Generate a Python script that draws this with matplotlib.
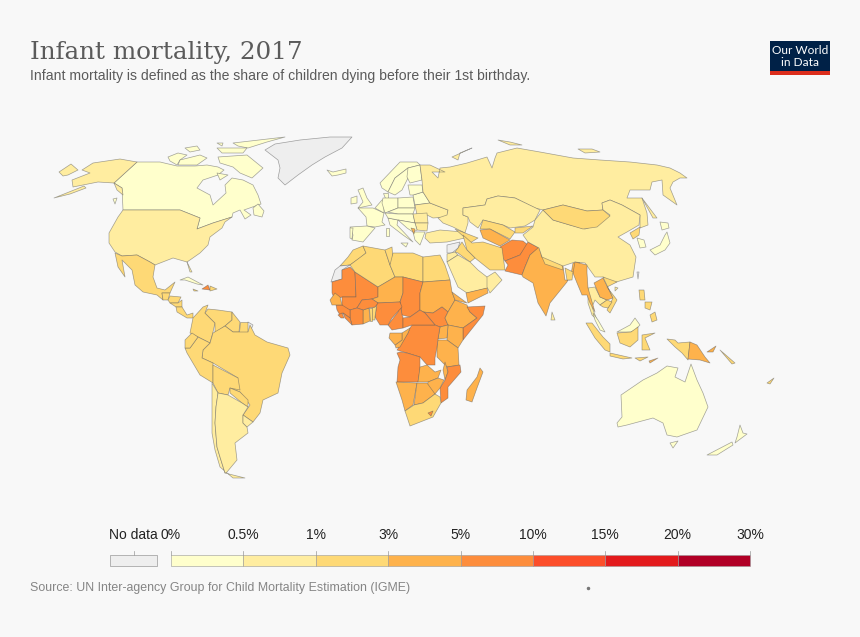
import matplotlib
matplotlib.use("Agg")
import matplotlib.pyplot as plt
from matplotlib.colors import ListedColormap, BoundaryNorm
from matplotlib.patches import Polygon, Rectangle

BIN_EDGES = [0, 0.5, 1, 3, 5, 10, 15, 20, 30]
BIN_LABELS = ["0%", "0.5%", "1%", "3%", "5%", "10%", "15%", "20%", "30%"]
BIN_COLORS = ["#FFFFCC", "#FFEDA0", "#FED976", "#FEB24C", "#FD8D3C", "#FC4E2A", "#E31A1C", "#B10026"]
NO_DATA = "#EEEEEE"

# Map outlines (map x, map y)
CANADA = [(137,162),(114,183),(122,188),(123,210),(180,210),(200,218),(197,229),(213,223),(232,217),(233,213),(240,210),(245,219),(251,215),(244,210),(261,204),(258,195),(253,185),(243,180),(232,178),(225,185),(226,193),(213,205),(210,195),(197,188),(203,180),(218,175),(224,170),(218,167),(207,165),(195,166),(177,166),(160,162)]
BAFFIN = [(218,157),(247,155),(263,168),(252,178),(240,173),(233,167),(220,163)]
ELLESMERE = [(233,143),(285,137),(267,142),(248,148),(238,146)]
BANKS = [(168,157),(178,153),(187,155),(180,160),(177,165),(170,161)]
VICTORIA = [(180,160),(200,155),(207,158),(197,165),(178,165)]
MELVILLE = [(185,148),(197,146),(200,150),(190,152)]
AXEL = [(217,143),(223,143),(222,146)]
DEVON = [(217,148),(247,148),(243,153),(222,153)]
SOUTHAMPTON = [(217,173),(228,175),(220,180)]
NEWFOUNDLAND = [(253,208),(258,204),(264,211),(262,217),(254,215)]
VANCOUVER = [(113,199),(117,198),(115,204)]
ALASKA_MAIN = [(137,162),(120,159),(93,163),(82,170),(90,173),(72,180),(73,187),(83,185),(98,182),(114,183)]
PANHANDLE = [(114,183),(122,188),(123,195),(117,190)]
SEWARD = [(59,172),(71,164),(78,170),(68,175),(63,176)]
ALEUT = [(54,198),(84,186),(86,188),(70,194)]
GREENLAND = [(265,150),(275,144),(300,140),(330,137),(352,137),(342,148),(325,157),(312,165),(298,175),(285,185),(278,178),(280,168),(278,160)]
ICELAND = [(327,170),(333,172),(346,169),(346,173),(338,175),(332,176)]
USA = [(123,210),(180,210),(200,218),(197,229),(213,223),(232,217),(225,222),(222,228),(210,237),(208,245),(200,253),(190,260),(187,262),(192,272),(190,272),(187,262),(173,258),(155,265),(150,262),(137,255),(122,256),(115,252),(109,243),(109,233),(118,217)]
MEXICO = [(115,253),(122,256),(137,255),(150,262),(155,265),(153,277),(157,288),(165,290),(175,282),(170,293),(162,293),(163,300),(157,295),(143,292),(135,285),(132,270),(122,260),(125,277),(118,267)]
GUATEMALA = [(162,293),(170,293),(168,300),(163,300)]
HONDURAS = [(168,300),(170,296),(181,297),(178,303),(170,303)]
NICARAGUA = [(170,303),(178,303),(182,300),(182,307),(176,307)]
PANAMA = [(176,307),(182,307),(187,315),(193,313),(193,318),(187,318),(177,312)]
CUBA = [(180,280),(188,277),(203,285),(197,284),(185,280)]
HAITI = [(202,289),(208,285),(210,290)]
DOMINICAN = [(210,286),(217,289),(210,291)]
JAMAICA = [(193,289),(198,291),(194,291)]
COLOMBIA = [(193,318),(203,307),(208,305),(205,313),(215,323),(213,332),(210,343),(198,337),(190,333)]
VENEZUELA = [(205,313),(208,309),(218,310),(232,312),(232,320),(225,326),(215,333),(215,323)]
GUYANA = [(232,312),(240,322),(239,332),(233,332),(225,326),(232,320)]
SURINAME = [(240,322),(248,322),(248,332),(239,332)]
GUIANA = [(248,322),(253,325),(250,332),(248,332)]
BRAZIL = [(210,343),(213,333),(225,326),(233,332),(248,332),(250,325),(255,335),(267,342),(288,348),(290,355),(282,373),(278,393),(263,400),(260,413),(253,422),(243,415),(250,405),(240,392),(230,388),(238,378),(213,363),(202,358),(203,350)]
PERU = [(185,348),(190,348),(198,337),(210,343),(203,350),(202,358),(213,363),(213,383),(200,375),(187,353)]
ECUADOR = [(185,340),(192,333),(198,337),(190,348),(185,348)]
BOLIVIA = [(213,365),(238,378),(240,390),(230,388),(228,395),(218,393),(213,383)]
PARAGUAY = [(230,388),(240,392),(248,400),(248,407),(242,403),(230,393)]
CHILE = [(212,383),(218,393),(216,407),(215,423),(217,447),(220,457),(225,473),(245,478),(233,478),(220,467),(215,450),(212,433)]
ARGENTINA = [(218,393),(228,395),(242,403),(248,407),(243,415),(243,423),(247,427),(248,433),(235,443),(237,460),(227,472),(225,473),(220,457),(217,447),(215,423),(216,407)]
URUGUAY = [(243,415),(253,422),(247,427),(243,423)]
MOROCCO = [(340,266),(348,257),(353,250),(363,246),(366,253),(360,258),(350,265)]
W_SAHARA = [(331,282),(335,270),(340,266),(350,265),(342,270),(342,279)]
MAURITANIA = [(332,293),(332,282),(342,279),(342,270),(350,267),(355,272),(356,297),(342,297),(335,300)]
MALI = [(355,272),(378,287),(378,297),(372,299),(362,300),(357,308),(350,310),(342,307),(342,297),(356,297)]
ALGERIA = [(350,265),(366,253),(363,246),(385,250),(390,265),(395,277),(378,287),(355,272)]
TUNISIA = [(385,250),(392,247),(393,260),(390,265)]
LIBYA = [(390,265),(393,253),(413,253),(423,257),(423,282),(403,277),(395,277)]
EGYPT = [(423,257),(440,255),(445,265),(450,280),(423,282)]
NIGER = [(378,287),(395,277),(403,277),(403,293),(400,302),(378,303),(372,299),(378,297)]
CHAD = [(403,277),(423,282),(420,293),(420,310),(410,317),(402,315),(400,302),(403,293)]
SUDAN = [(423,282),(450,280),(452,292),(455,300),(448,312),(442,307),(433,313),(423,312),(420,310),(420,293)]
S_SUDAN = [(423,312),(433,313),(442,307),(448,312),(445,318),(448,325),(440,327),(435,325),(425,313)]
ETHIOPIA = [(448,312),(455,300),(467,305),(470,312),(477,318),(463,328),(448,325),(445,318)]
ERITREA = [(452,292),(467,303),(455,300)]
SOMALIA = [(467,307),(485,306),(483,315),(463,340),(463,328),(477,318),(470,312)]
KENYA = [(448,325),(463,328),(463,340),(458,348),(447,340)]
UGANDA = [(440,327),(448,325),(447,338),(438,339)]
TANZANIA = [(438,340),(447,340),(458,348),(459,365),(447,367),(437,357),(437,347)]
DRC = [(412,325),(435,325),(440,327),(438,339),(437,347),(435,358),(435,365),(427,365),(420,357),(407,353),(397,350),(408,333),(410,328)]
CONGO = [(402,333),(410,328),(408,333),(400,347),(396,348),(395,345),(402,340)]
GABON = [(390,333),(402,333),(402,340),(395,345),(389,338)]
CAMEROON = [(400,302),(402,315),(403,317),(403,328),(392,330),(388,325),(398,312)]
CAR = [(403,318),(410,317),(420,310),(425,313),(435,325),(412,325),(403,328)]
NIGERIA = [(377,303),(400,302),(402,307),(392,318),(388,325),(380,325),(375,317)]
BENIN = [(372,308),(375,307),(377,303),(375,317),(375,320),(372,320)]
TOGO = [(369,308),(372,308),(372,321),(370,321)]
GHANA = [(363,310),(369,308),(370,321),(363,324)]
BURKINA = [(357,308),(362,300),(372,299),(378,303),(375,307),(369,308),(363,310)]
IVORY = [(350,310),(357,308),(363,310),(363,324),(352,325),(350,318)]
GUINEA = [(336,305),(342,305),(350,310),(350,318),(343,313),(340,315),(337,310)]
SENEGAL = [(330,300),(335,293),(340,297),(342,305),(332,305)]
LIBERIA = [(343,313),(350,318),(352,325),(345,318)]
SIERRA_LEONE = [(338,315),(342,313),(344,318),(341,318)]
ANGOLA = [(397,353),(400,352),(407,353),(420,357),(420,370),(418,382),(397,382),(398,367),(400,360)]
ZAMBIA = [(420,367),(427,365),(435,372),(441,370),(438,378),(428,382),(418,382)]
MALAWI = [(445,362),(448,372),(445,380),(443,370)]
MOZAMBIQUE = [(447,367),(460,365),(461,372),(448,387),(448,398),(441,403),(440,388),(445,380),(448,372)]
ZIMBABWE = [(428,382),(438,378),(444,380),(440,388),(435,394),(427,390)]
NAMIBIA = [(396,382),(417,383),(413,405),(405,411),(402,400)]
BOTSWANA = [(417,383),(427,383),(435,394),(423,403),(414,405)]
S_AFRICA = [(405,411),(414,405),(423,403),(435,394),(440,397),(441,403),(433,417),(410,426)]
LESOTHO = [(428,413),(433,411),(431,416)]
MADAGASCAR = [(480,368),(483,372),(477,388),(472,402),(466,400),(467,390),(477,377)]
FRANCE = [(358,208),(373,208),(384,213),(382,222),(385,225),(375,227),(367,226),(366,217)]
BENELUX = [(375,208),(382,200),(384,200),(384,213)]
DENMARK = [(383,193),(388,193),(388,198),(385,198)]
SPAIN = [(350,227),(367,226),(375,228),(363,242),(352,240),(353,235)]
PORTUGAL = [(350,228),(353,228),(352,239),(350,238)]
UK = [(358,190),(363,188),(367,198),(372,205),(358,208),(363,202)]
IRELAND = [(351,198),(357,196),(357,203),(351,204)]
NORWAY = [(380,183),(400,162),(417,162),(420,165),(408,168),(395,178),(388,192),(382,188)]
SWEDEN = [(395,178),(408,168),(412,170),(408,178),(402,190),(395,195),(388,192)]
FINLAND = [(408,168),(420,165),(422,180),(410,183),(407,177)]
GERMANY = [(383,198),(398,198),(398,208),(385,213),(382,203)]
POLAND = [(398,198),(413,197),(415,208),(398,208)]
BELARUS = [(413,195),(423,192),(430,203),(415,205)]
BALTICS = [(408,185),(422,185),(423,192),(413,195),(410,195)]
UKRAINE = [(415,205),(430,203),(448,210),(447,217),(433,218),(427,215),(417,215)]
ITALY = [(388,218),(398,220),(397,225),(413,242),(403,235),(390,225)]
SICILY = [(401,243),(408,243),(406,247)]
SARDINIA = [(386,228),(389,228),(389,236),(386,236)]
CZECH_SK = [(388,212),(398,208),(415,208),(413,214),(398,214)]
AUSTRIA_HU = [(385,213),(398,214),(413,214),(415,223),(398,220),(388,218)]
ROMANIA = [(413,214),(427,213),(428,223),(415,223)]
BULGARIA = [(415,223),(428,223),(427,231),(417,230)]
GREECE = [(413,232),(425,232),(420,245),(415,240)]
TURKEY = [(426,233),(440,230),(463,232),(465,238),(447,242),(430,243),(425,238)]
BALKANS = [(398,220),(415,223),(417,230),(413,232),(407,228)]
ALBANIA = [(411,228),(415,229),(414,234)]
RUSSIA = [(420,165),(430,165),(445,172),(432,172),(438,178),(440,168),(450,167),(467,163),(477,160),(487,157),(492,168),(495,158),(497,153),(517,148),(540,152),(573,158),(600,160),(630,162),(657,165),(670,168),(680,173),(687,178),(680,178),(673,182),(670,188),(677,205),(663,195),(662,180),(652,182),(650,190),(630,190),(627,198),(642,198),(647,213),(648,225),(640,228),(640,215),(622,205),(610,200),(602,203),(603,210),(587,211),(563,205),(543,210),(535,208),(515,198),(498,196),(487,199),(485,205),(463,208),(463,215),(468,217),(468,223),(465,233),(453,227),(443,223),(438,218),(447,215),(448,210),(430,203),(423,192),(422,180)]
NOVAYA = [(452,157),(472,148),(460,153),(458,160)]
SEVERNAYA = [(498,140),(510,142),(522,145),(510,145)]
SIBERIA_ISL = [(578,149),(592,149),(600,152),(585,153)]
KAZAKHSTAN = [(463,208),(485,205),(487,199),(498,196),(515,198),(540,210),(535,220),(525,226),(510,228),(503,225),(483,220),(478,228),(470,222),(468,217),(463,215)]
UZBEKISTAN = [(483,220),(503,225),(515,232),(510,239),(490,229),(480,229)]
TURKMENISTAN = [(480,230),(490,229),(510,240),(500,246),(483,238)]
KYRGYZ = [(515,228),(533,226),(523,233),(515,233)]
CAUCASUS = [(455,229),(465,233),(478,238),(470,243),(463,236)]
AFGHANISTAN = [(500,247),(512,240),(523,241),(528,245),(520,255),(505,261),(502,257)]
PAKISTAN = [(505,261),(520,255),(528,242),(539,248),(530,255),(525,267),(522,275),(505,271),(508,265)]
INDIA = [(539,247),(542,257),(563,266),(565,280),(570,280),(573,263),(580,262),(575,272),(570,275),(567,282),(550,303),(546,316),(538,303),(533,283),(523,277),(522,275),(525,267),(530,255)]
NEPAL = [(541,255),(562,265),(563,270),(545,264)]
CHINA = [(639,225),(640,215),(622,205),(610,200),(602,203),(603,210),(610,215),(603,218),(597,225),(585,229),(570,225),(553,220),(543,210),(535,220),(533,227),(523,235),(528,242),(539,248),(542,257),(563,266),(575,262),(585,263),(595,277),(603,277),(613,283),(633,277),(636,257),(630,245),(618,237),(627,232)]
MONGOLIA = [(543,210),(563,205),(587,211),(603,210),(610,216),(597,227),(583,229),(553,220)]
N_KOREA = [(630,233),(640,227),(639,235),(633,239)]
S_KOREA = [(637,238),(644,240),(646,247),(640,248)]
HONSHU = [(650,250),(660,245),(665,235),(667,232),(670,243),(665,250),(655,255)]
HOKKAIDO = [(660,222),(668,223),(669,228),(662,230)]
SAKHALIN = [(642,198),(657,218),(653,218)]
IRAN = [(463,235),(472,243),(483,242),(502,248),(505,270),(490,270),(475,258),(467,250)]
IRAQ = [(462,242),(467,250),(475,258),(470,262),(458,253),(455,252)]
SYRIA = [(447,245),(460,242),(458,248),(452,253),(447,253)]
JORDAN = [(447,254),(455,252),(458,255),(447,262)]
SAUDI = [(447,262),(458,255),(470,262),(478,270),(487,277),(493,283),(488,288),(467,293),(458,287)]
YEMEN = [(466,293),(487,288),(488,293),(468,303)]
OMAN = [(487,277),(495,272),(502,280),(490,293),(487,287)]
THAILAND = [(588,288),(595,287),(600,297),(607,300),(600,305),(595,300),(592,307),(597,320),(592,315),(588,303)]
MYANMAR = [(575,262),(587,265),(587,273),(588,288),(595,312),(590,303),(587,295),(582,295),(577,283),(573,273)]
LAOS = [(594,283),(603,278),(613,298),(607,300),(600,297)]
VIETNAM = [(603,277),(617,282),(607,287),(617,300),(610,313),(607,310),(613,298)]
CAMBODIA = [(600,305),(607,300),(612,302),(608,308),(603,307)]
BANGLADESH = [(565,268),(573,272),(572,280),(567,280)]
SRI_LANKA = [(552,312),(555,320),(551,320)]
HAINAN = [(615,287),(618,288),(615,291)]
TAIWAN = [(637,272),(639,272),(638,279)]
MALAY_PEN = [(593,313),(598,320),(605,332),(600,330),(595,320)]
SARAWAK = [(617,332),(630,325),(635,318),(640,325),(635,330),(631,332)]
SUMATRA = [(586,323),(592,323),(603,337),(610,344),(610,352),(605,350),(595,338)]
JAVA = [(610,353),(632,358),(623,359),(610,356)]
KALIMANTAN = [(617,333),(631,332),(638,327),(638,340),(630,347),(620,343)]
SULAWESI = [(642,335),(655,333),(645,338),(650,350),(642,350)]
PAPUA = [(667,339),(675,340),(678,343),(690,342),(688,360),(682,353),(675,347)]
PNG = [(690,342),(697,345),(705,357),(710,363),(700,360),(688,359)]
NEW_BRITAIN = [(707,352),(716,346),(713,352)]
SOLOMON = [(720,350),(735,363),(732,364)]
LUZON = [(639,290),(644,290),(645,300),(640,300)]
VISAYAS = [(645,302),(652,302),(650,310),(645,308)]
MINDANAO = [(650,315),(655,312),(657,320),(652,322)]
SUNDA = [(635,358),(648,357),(640,361)]
TIMOR = [(649,361),(658,358),(650,363)]
AUSTRALIA = [(617,423),(622,417),(621,395),(643,380),(657,373),(667,366),(678,368),(675,377),(685,382),(691,364),(697,380),(703,393),(708,407),(697,430),(677,437),(667,435),(663,423),(653,418),(627,425),(618,427)]
TASMANIA = [(670,443),(678,441),(673,448)]
NZ_NORTH = [(740,425),(743,433),(747,434),(735,443),(737,437)]
NZ_SOUTH = [(707,455),(732,442),(733,445),(717,455)]
FIJI = [(767,383),(774,378),(770,384)]

MAP_REGIONS = [
    (CANADA,0.45),(BAFFIN,0.45),(ELLESMERE,0.45),(BANKS,0.45),(VICTORIA,0.45),(MELVILLE,0.45),(AXEL,0.45),(DEVON,0.45),(SOUTHAMPTON,0.45),(NEWFOUNDLAND,0.45),(VANCOUVER,0.45),
    (ALASKA_MAIN,0.6),(PANHANDLE,0.6),(SEWARD,0.6),(ALEUT,0.6),(GREENLAND,None),(ICELAND,0.2),(USA,0.6),(MEXICO,1.3),
    (GUATEMALA,2.4),(HONDURAS,1.6),(NICARAGUA,1.6),(PANAMA,1.4),(CUBA,0.4),(HAITI,5.4),(DOMINICAN,2.5),(JAMAICA,1.3),
    (COLOMBIA,1.3),(VENEZUELA,2.6),(GUYANA,2.6),(SURINAME,1.8),(GUIANA,None),(BRAZIL,1.3),(PERU,1.2),(ECUADOR,1.2),(BOLIVIA,2.2),(PARAGUAY,1.6),(CHILE,0.6),(ARGENTINA,0.9),(URUGUAY,0.7),
    (MOROCCO,2.0),(W_SAHARA,None),(MAURITANIA,5.4),(MALI,6.6),(ALGERIA,2.1),(TUNISIA,1.2),(LIBYA,1.1),(EGYPT,1.9),(NIGER,4.8),(CHAD,7.3),(SUDAN,4.2),(S_SUDAN,6.3),(ETHIOPIA,4.1),(ERITREA,3.2),(SOMALIA,8.0),(KENYA,3.4),(UGANDA,3.4),(TANZANIA,3.8),
    (DRC,7.0),(CONGO,3.6),(GABON,3.4),(CAMEROON,5.2),(CAR,8.8),(NIGERIA,6.4),(BENIN,2.9),(TOGO,2.9),(GHANA,3.6),(BURKINA,5.3),(IVORY,5.9),(GUINEA,5.8),(SENEGAL,3.3),(LIBERIA,5.3),(SIERRA_LEONE,8.1),
    (ANGOLA,5.5),(ZAMBIA,4.0),(MALAWI,3.6),(MOZAMBIQUE,5.3),(ZIMBABWE,3.4),(NAMIBIA,3.0),(BOTSWANA,3.0),(S_AFRICA,2.9),(LESOTHO,6.4),(MADAGASCAR,3.4),
    (FRANCE,0.35),(BENELUX,0.3),(DENMARK,0.3),(SPAIN,0.3),(PORTUGAL,0.3),(UK,0.4),(IRELAND,0.3),(NORWAY,0.2),(SWEDEN,0.2),(FINLAND,0.2),(GERMANY,0.3),(POLAND,0.4),(BELARUS,0.3),(BALTICS,0.4),(UKRAINE,0.8),(ITALY,0.3),(SICILY,0.3),(SARDINIA,0.3),(CZECH_SK,0.35),(AUSTRIA_HU,0.35),(ROMANIA,0.7),(BULGARIA,0.6),(GREECE,0.35),(TURKEY,0.9),(BALKANS,0.45),(ALBANIA,3.1),
    (RUSSIA,0.6),(NOVAYA,0.6),(SEVERNAYA,0.6),(SIBERIA_ISL,0.6),(KAZAKHSTAN,0.9),(UZBEKISTAN,2.1),(TURKMENISTAN,4.2),(KYRGYZ,1.7),(CAUCASUS,1.5),(AFGHANISTAN,5.1),(PAKISTAN,6.1),(INDIA,3.2),(NEPAL,2.8),(CHINA,0.8),(MONGOLIA,1.5),(N_KOREA,1.3),(S_KOREA,0.3),(HONSHU,0.2),(HOKKAIDO,0.2),(SAKHALIN,0.6),
    (IRAN,1.3),(IRAQ,2.3),(SYRIA,None),(JORDAN,0.9),(SAUDI,0.6),(YEMEN,4.3),(OMAN,0.9),(THAILAND,0.8),(MYANMAR,3.7),(LAOS,4.0),(VIETNAM,1.7),(CAMBODIA,2.5),(BANGLADESH,2.7),(SRI_LANKA,0.8),(HAINAN,0.8),(TAIWAN,None),
    (MALAY_PEN,0.45),(SARAWAK,0.45),(SUMATRA,2.1),(JAVA,2.1),(KALIMANTAN,2.1),(SULAWESI,2.1),(PAPUA,2.1),(PNG,3.8),(NEW_BRITAIN,3.8),(SOLOMON,2.0),(LUZON,2.2),(VISAYAS,2.2),(MINDANAO,2.2),(SUNDA,2.1),(TIMOR,3.3),
    (AUSTRALIA,0.3),(TASMANIA,0.3),(NZ_NORTH,0.4),(NZ_SOUTH,0.4),(FIJI,2.1),
]

TITLE = "Infant mortality, 2017"
SUBTITLE = "Infant mortality is defined as the share of children dying before their 1st birthday."
SOURCE = "Source: UN Inter-agency Group for Child Mortality Estimation (IGME)"

cmap = ListedColormap(BIN_COLORS)
norm = BoundaryNorm(BIN_EDGES, cmap.N)

fig = plt.figure(figsize=(8.6, 6.37), dpi=100, facecolor="#F8F8F8")
ax = fig.add_axes([0, 0, 1, 1])
ax.set_xlim(0, 860)
ax.set_ylim(637, 0)
ax.axis("off")

for outline, rate in MAP_REGIONS:
    face = NO_DATA if rate is None else cmap(norm(rate))
    ax.add_patch(Polygon(outline, closed=True, facecolor=face,
                         edgecolor=(0.35, 0.35, 0.35, 0.55), linewidth=0.5, joinstyle="round"))

ax.text(30, 52, TITLE, family="DejaVu Serif", fontsize=17.7, color="#5B5B5B", va="center", ha="left")
ax.text(30, 76, SUBTITLE, family="Liberation Sans", fontsize=10.1, color="#5B5B5B", va="center", ha="left")
ax.text(30, 588, SOURCE, family="Liberation Sans", fontsize=8.95, color="#858585", va="center", ha="left")

# logo
ax.add_patch(Rectangle((770, 41), 60, 34, facecolor="#002147", edgecolor="none"))
ax.add_patch(Rectangle((770, 71), 60, 4, facecolor="#DC2E1C", edgecolor="none"))
ax.text(800, 50, "Our World", family="Lato", fontsize=8.6, color="white", ha="center", va="center")
ax.text(800, 63, "in Data", family="Lato", fontsize=8.6, color="white", ha="center", va="center")

# legend: bins share equal widths
LEG_X0, LEG_X1, LEG_Y0, LEG_H = 171, 750, 555, 11
step = (LEG_X1 - LEG_X0) / len(BIN_COLORS)
for i, c in enumerate(BIN_COLORS):
    ax.add_patch(Rectangle((LEG_X0 + i * step, LEG_Y0), step, LEG_H, facecolor=c, edgecolor="#999999", linewidth=0.4))
for i, lab in enumerate(BIN_LABELS):
    x = LEG_X0 + i * step
    ax.plot([x, x], [LEG_Y0 - 4, LEG_Y0], color="#999999", lw=0.5)
    ax.text(x, 535, lab, family="Liberation Sans", fontsize=10, color="#222222", ha="center", va="center")
ax.add_patch(Rectangle((110, LEG_Y0), 47, LEG_H, facecolor=NO_DATA, edgecolor="#999999", linewidth=0.5))
ax.plot([133.5, 133.5], [LEG_Y0 - 4, LEG_Y0], color="#999999", lw=0.5)
ax.text(133.5, 535, "No data", family="Liberation Sans", fontsize=10, color="#222222", ha="center", va="center")
ax.plot([588], [588], marker="o", ms=1.5, color="#777777", ls="none")

fig.savefig("out.png", dpi=100, facecolor=fig.get_facecolor())
